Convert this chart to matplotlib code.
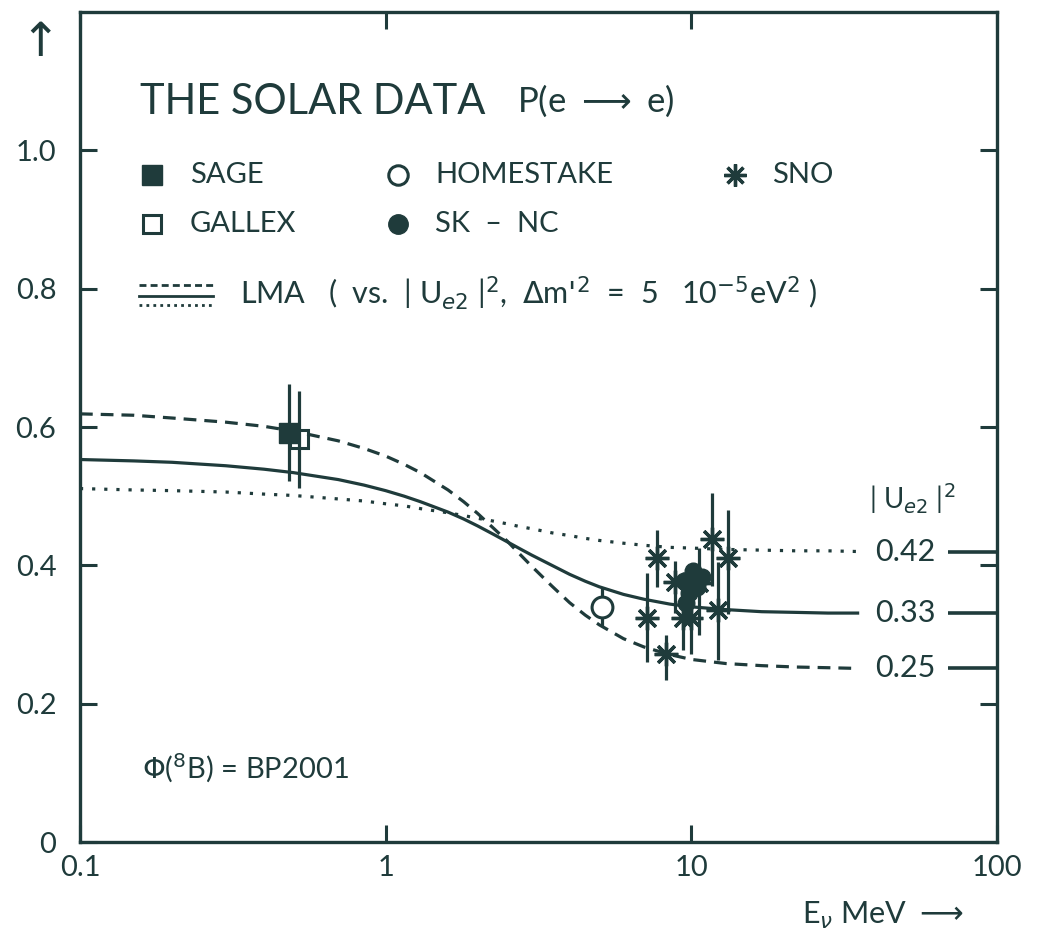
import matplotlib
matplotlib.use("Agg")
import matplotlib.pyplot as plt

# ------------------------------------------------------------------
# Data
# ------------------------------------------------------------------

E_CURVE = [0.1, 0.15, 0.2, 0.3, 0.4, 0.5, 0.7, 0.85, 1.0, 1.15, 1.3, 1.6,
           1.8, 2.0, 2.25, 2.5, 2.75, 3.0, 3.5, 4.0, 4.5, 5.0, 6.0, 7.0,
           8.5, 10, 13, 17, 22, 28, 35]
P_LMA_025 = [0.619, 0.617, 0.613, 0.607, 0.601, 0.594, 0.580, 0.569, 0.558,
             0.546, 0.534, 0.509, 0.492, 0.475, 0.454, 0.435, 0.416, 0.399,
             0.370, 0.346, 0.328, 0.314, 0.294, 0.282, 0.271, 0.264, 0.258,
             0.255, 0.253, 0.252, 0.251]
P_LMA_033 = [0.553, 0.551, 0.549, 0.544, 0.539, 0.534, 0.524, 0.516, 0.508,
             0.500, 0.492, 0.477, 0.467, 0.457, 0.445, 0.434, 0.424, 0.415,
             0.400, 0.387, 0.377, 0.369, 0.358, 0.351, 0.344, 0.340, 0.336,
             0.333, 0.332, 0.331, 0.331]
P_LMA_042 = [0.511, 0.509, 0.508, 0.506, 0.503, 0.501, 0.496, 0.493, 0.489,
             0.486, 0.482, 0.476, 0.472, 0.468, 0.464, 0.460, 0.456, 0.453,
             0.447, 0.443, 0.439, 0.436, 0.432, 0.429, 0.426, 0.425, 0.423,
             0.422, 0.421, 0.421, 0.420]
UE2_LABELS = ["0.42", "0.33", "0.25"]
UE2_LEVELS = [0.420, 0.331, 0.251]

SAGE_E, SAGE_P, SAGE_LO, SAGE_HI = [0.483], [0.591], [0.522], [0.662]
GALLEX_E, GALLEX_P, GALLEX_LO, GALLEX_HI = [0.521], [0.582], [0.512], [0.652]
HOME_E, HOME_P, HOME_LO, HOME_HI = [5.1], [0.340], [0.313], [0.368]

SNO_E = [7.18, 7.74, 8.28, 8.87, 9.42, 10.0, 10.6, 11.7, 12.2, 13.2]
SNO_P = [0.324, 0.410, 0.272, 0.376, 0.324, 0.324, 0.375, 0.438, 0.335, 0.410]
SNO_LO = [0.260, 0.368, 0.234, 0.331, 0.277, 0.272, 0.300, 0.370, 0.263, 0.330]
SNO_HI = [0.389, 0.451, 0.300, 0.407, 0.360, 0.350, 0.425, 0.504, 0.405, 0.480]

SK_E = [9.5, 10.1, 10.8, 9.8, 10.4, 9.6]
SK_P = [0.378, 0.392, 0.383, 0.360, 0.368, 0.345]
SK_ERR = [0.012, 0.012, 0.012, 0.012, 0.012, 0.012]

X_TICKS = [0.1, 1, 10, 100]
X_TICK_LABELS = ["0.1", "1", "10", "100"]
Y_TICKS = [0, 0.2, 0.4, 0.6, 0.8, 1.0]
Y_TICK_LABELS = ["0", "0.2", "0.4", "0.6", "0.8", "1.0"]

# ------------------------------------------------------------------
# Style
# ------------------------------------------------------------------

INK = "#1f3b3b"
LW = 2.3
DASHED = (4, 2.5)
DOTTED = (1, 2.8)
ASTER = (8, 2, 0)

plt.rcParams["font.family"] = ["Lato", "DejaVu Sans"]
plt.rcParams["mathtext.fontset"] = "dejavusans"
plt.rcParams["text.color"] = INK


def errbars(ax, xs, lo, hi, lw=LW):
    ax.vlines(xs, lo, hi, colors=INK, linewidth=lw, zorder=2)


fig = plt.figure(figsize=(10.37, 9.30), dpi=100)
ax = fig.add_axes([0.0771, 0.0946, 0.8843, 0.8925])

# LMA curves
ax.plot(E_CURVE, P_LMA_025, color=INK, lw=LW, dashes=DASHED, zorder=1)
ax.plot(E_CURVE, P_LMA_033, color=INK, lw=LW, zorder=1)
ax.plot(E_CURVE, P_LMA_042, color=INK, lw=LW, dashes=DOTTED, zorder=1)

# |U_e2|^2 markers at the right edge
for lab, lev in zip(UE2_LABELS, UE2_LEVELS):
    ax.plot([69, 100], [lev, lev], color=INK, lw=2.6, solid_capstyle="butt")
    ax.text(50, lev, lab, ha="center", va="center", fontsize=22)
ax.text(53, 0.497, r"| U$_{e2}$ |$^2$", ha="center", va="center", fontsize=20)

# data
errbars(ax, SAGE_E, SAGE_LO, SAGE_HI)
errbars(ax, GALLEX_E, GALLEX_LO, GALLEX_HI)
ax.plot(SAGE_E, SAGE_P, "s", ms=14, color=INK, zorder=3)
ax.plot(GALLEX_E, GALLEX_P, "s", ms=13, mfc="none", mec=INK, mew=2.2, zorder=3)

errbars(ax, HOME_E, HOME_LO, HOME_HI)
ax.plot(HOME_E, HOME_P, "o", ms=15, mfc="white", mec=INK, mew=2.2, zorder=3)

errbars(ax, SNO_E, SNO_LO, SNO_HI)
ax.plot(SNO_E, SNO_P, ls="none", marker=ASTER, ms=17, mec=INK, mew=2.4, zorder=3)

ax.errorbar(SK_E, SK_P, yerr=SK_ERR, fmt="o", ms=12, color=INK,
            elinewidth=LW, capsize=0, zorder=4)

# in-plot legend
ax.text(0.157, 1.07, "THE SOLAR DATA", ha="left", va="center", fontsize=30)
ax.text(2.69, 1.072, r"P(e $\longrightarrow$ e)", ha="left", va="center",
        fontsize=25)

ax.plot([0.172], [0.965], "s", ms=14, color=INK)
ax.text(0.229, 0.965, "SAGE", ha="left", va="center", fontsize=21)
ax.plot([0.172], [0.894], "s", ms=13, mfc="none", mec=INK, mew=2.2)
ax.text(0.229, 0.894, "GALLEX", ha="left", va="center", fontsize=21)
ax.plot([1.10], [0.965], "o", ms=14, mfc="none", mec=INK, mew=2.2)
ax.text(1.45, 0.965, "HOMESTAKE", ha="left", va="center", fontsize=21)
ax.plot([1.10], [0.894], "o", ms=14, color=INK)
ax.text(1.45, 0.894, "SK  \u2013  NC", ha="left", va="center", fontsize=21)
ax.plot([13.9], [0.965], ls="none", marker=ASTER, ms=16, mec=INK, mew=2.4)
ax.text(18.4, 0.965, "SNO", ha="left", va="center", fontsize=21)

ax.plot([0.156, 0.273], [0.805, 0.805], color=INK, lw=2, dashes=(2.5, 1.5))
ax.plot([0.156, 0.273], [0.790, 0.790], color=INK, lw=2)
ax.plot([0.156, 0.273], [0.777, 0.777], color=INK, lw=2, dashes=(1, 1.5))
ax.text(0.334, 0.793,
        r"LMA   (  vs.  | U$_{e2}$ |$^2$,  $\Delta$m$'^2$  =  5   10$^{-5}$eV$^2$ )",
        ha="left", va="center", fontsize=22)

ax.text(0.159, 0.107, r"$\Phi$($^8$B) = BP2001", ha="left", va="center",
        fontsize=21)

# axes
ax.set_xscale("log")
ax.set_xlim(0.1, 100)
ax.set_ylim(0, 1.2)
ax.set_xticks(X_TICKS)
ax.set_xticklabels(X_TICK_LABELS)
ax.set_yticks(Y_TICKS)
ax.set_yticklabels(Y_TICK_LABELS)
ax.minorticks_off()
ax.tick_params(which="major", direction="in", length=12, width=2.2,
               top=True, right=True, labelsize=21, colors=INK)
ax.tick_params(axis="y", pad=17)
ax.tick_params(axis="x", pad=9)
for spine in ax.spines.values():
    spine.set_linewidth(2.4)
    spine.set_color(INK)

fig.text(0.039, 0.953, "\u2191", ha="center", va="center", fontsize=34,
         family="DejaVu Sans")
fig.text(0.773, 0.016, r"E$_\nu$ MeV $\longrightarrow$", ha="left",
         va="center", fontsize=22)

fig.savefig("out.png", dpi=100)
